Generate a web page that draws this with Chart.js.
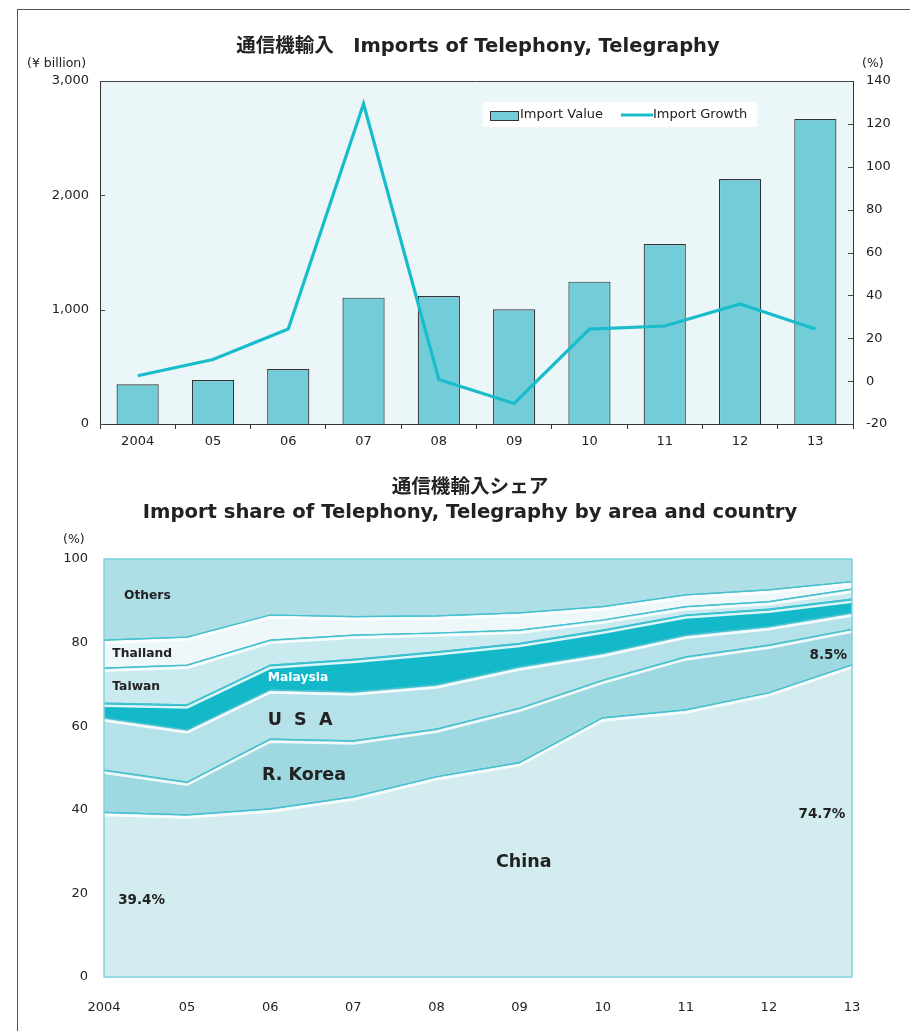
<!DOCTYPE html>
<html>
<head>
<meta charset="utf-8">
<title>Imports of Telephony, Telegraphy</title>
<script src="https://cdn.jsdelivr.net/npm/chart.js@4.4.1/dist/chart.umd.min.js"></script>
<style>
  html, body { margin: 0; padding: 0; background: #fff; }
  body { width: 910px; height: 1031px; position: relative; overflow: hidden; }
  #frame { position: absolute; left: 17px; top: 9px; width: 900px; height: 1030px;
           border-left: 1px solid #555; border-top: 1px solid #555; }
  #topBox { position: absolute; left: 0; top: 0; width: 910px; height: 460px; }
  #shareBox { position: absolute; left: 0; top: 460px; width: 910px; height: 571px; }
</style>
</head>
<body>
<div id="frame"></div>
<div id="topBox"><canvas id="importChart"></canvas></div>
<div id="shareBox"><canvas id="shareChart"></canvas></div>
<script>
// --- data ---
const years = ['2004', '05', '06', '07', '08', '09', '10', '11', '12', '13'];

// import value (¥ billion) and growth (%)
const importValue = [348, 385, 481, 1105, 1120, 1003, 1245, 1575, 2143, 2668];
const importGrowth = [2.5, 10.1, 24.3, 129.4, 0.8, -10.4, 24.3, 25.7, 36.0, 24.3];

// share by area / country (%), bottom to top
const chinaShare    = [39.4, 38.8, 40.2, 43.1, 47.9, 51.3, 62.0, 63.9, 68.0, 74.7];
const koreaShare    = [10.1, 7.8, 16.7, 13.4, 11.4, 13.0, 9.0, 12.7, 11.4, 8.5];
const usaShare      = [12.5, 12.5, 11.8, 11.7, 10.6, 9.9, 6.4, 5.2, 4.4, 3.9];
const malaysiaShare = [3.5, 6.0, 5.9, 7.8, 7.9, 5.6, 5.6, 4.8, 4.2, 3.3];
const taiwanShare   = [8.4, 9.5, 6.0, 5.8, 4.5, 3.2, 2.4, 2.0, 1.8, 2.4];
const thailandShare = [6.7, 6.7, 6.0, 4.4, 4.1, 4.1, 3.2, 2.8, 2.8, 1.8];
const othersShare   = [19.4, 18.7, 13.4, 13.8, 13.6, 12.9, 11.4, 8.6, 7.4, 5.4];

const topTitle = '通信機輸入　Imports of Telephony, Telegraphy';
const shareTitle1 = '通信機輸入シェア';
const shareTitle2 = 'Import share of Telephony, Telegraphy by area and country';

const tickFont = { family: "'DejaVu Sans', sans-serif", size: 13 };
const textColor = '#222';
const barColor = '#72cdd8';
const lineColor = '#19bccb';

// --- top chart: bars + growth line ---
const topDecor = {
    id: 'topDecor',
    beforeDraw(chart) {
        const { ctx, chartArea: a } = chart;
        ctx.save();
        ctx.fillStyle = '#eaf6f8';
        ctx.fillRect(a.left, a.top, a.right - a.left, a.bottom - a.top);
        ctx.restore();
    },
    afterDraw(chart) {
        const { ctx, chartArea: a } = chart;
        ctx.save();
        ctx.strokeStyle = '#444';
        ctx.lineWidth = 1;
        ctx.beginPath();
        ctx.moveTo(a.left, a.top + 0.5);
        ctx.lineTo(a.right, a.top + 0.5);
        ctx.stroke();

        // small inward tick marks on both value axes
        ['y', 'y1'].forEach(id => {
            const s = chart.scales[id];
            s.ticks.forEach(t => {
                const py = Math.round(s.getPixelForValue(t.value)) + 0.5;
                ctx.beginPath();
                if (id === 'y') { ctx.moveTo(a.left, py); ctx.lineTo(a.left + 5, py); }
                else { ctx.moveTo(a.right - 5, py); ctx.lineTo(a.right, py); }
                ctx.stroke();
            });
        });

        // title and units
        ctx.fillStyle = textColor;
        ctx.font = "bold 19.5px 'DejaVu Sans', 'Noto Sans CJK JP'";
        ctx.textAlign = 'center';
        ctx.textBaseline = 'middle';
        ctx.fillText(topTitle, 478, 47);
        ctx.font = "12.5px 'DejaVu Sans'";
        ctx.textAlign = 'left';
        ctx.fillText('(¥ billion)', 27, 64);
        ctx.fillText('(%)', 862, 64);

        // legend inside the plot
        const lx = a.left + 383, ly = a.top + 21;
        ctx.fillStyle = '#fff';
        ctx.fillRect(lx, ly, 274, 25);
        ctx.fillStyle = barColor;
        ctx.fillRect(lx + 7, ly + 9, 28, 9);
        ctx.strokeStyle = '#333';
        ctx.strokeRect(lx + 7.5, ly + 9.5, 28, 9);
        ctx.fillStyle = textColor;
        ctx.font = "13px 'DejaVu Sans'";
        ctx.fillText(chart.data.datasets[0].label, lx + 37, ly + 13);
        ctx.strokeStyle = lineColor;
        ctx.lineWidth = 3;
        ctx.beginPath();
        ctx.moveTo(lx + 138, ly + 13);
        ctx.lineTo(lx + 170, ly + 13);
        ctx.stroke();
        ctx.fillText(chart.data.datasets[1].label, lx + 170, ly + 13);
        ctx.restore();
    }
};

new Chart(document.getElementById('importChart'), {
    type: 'bar',
    data: {
        labels: years,
        datasets: [{
            type: 'bar',
            label: 'Import Value',
            data: importValue,
            backgroundColor: barColor,
            borderColor: '#333',
            borderWidth: 1.2,
            categoryPercentage: 1,
            barPercentage: 0.56,
            yAxisID: 'y',
            order: 1
        }, {
            type: 'line',
            label: 'Import Growth',
            data: importGrowth,
            borderColor: lineColor,
            borderWidth: 3.2,
            pointRadius: 0,
            tension: 0,
            yAxisID: 'y1',
            order: 0
        }]
    },
    options: {
        responsive: true,
        maintainAspectRatio: false,
        animation: false,
        layout: { padding: { top: 81, left: 0, right: 0, bottom: 0 } },
        plugins: { legend: { display: false }, tooltip: { enabled: false } },
        scales: {
            x: {
                offset: true,
                grid: { offset: true, drawOnChartArea: false, tickLength: 5, color: '#333' },
                border: { color: '#333' },
                ticks: { font: tickFont, color: textColor, padding: 5, maxRotation: 0 },
                afterFit: s => { s.height = 36; }
            },
            y: {
                position: 'left',
                min: 0, max: 3000,
                grid: { display: false, drawTicks: false },
                border: { color: '#333' },
                ticks: {
                    stepSize: 1000, font: tickFont, color: textColor, padding: 11,
                    callback: v => v.toLocaleString('en-US')
                },
                afterFit: s => { s.width = 100; }
            },
            y1: {
                position: 'right',
                min: -20, max: 140,
                grid: { display: false, drawTicks: false },
                border: { color: '#333' },
                ticks: { stepSize: 20, font: tickFont, color: textColor, padding: 13 },
                afterFit: s => { s.width = 57; }
            }
        }
    },
    plugins: [topDecor]
});

// --- bottom chart: stacked share areas ---
const areaNotes = [
    { text: 'Others',   x: 0.24, y: 91.2, size: 12.3, color: '#222', align: 'left' },
    { text: 'Thailand', x: 0.10, y: 77.3, size: 12.3, color: '#222', align: 'left' },
    { text: 'Taiwan',   x: 0.10, y: 69.5, size: 12.3, color: '#222', align: 'left' },
    { text: 'Malaysia', x: 1.97, y: 71.5, size: 12.3, color: '#fff', align: 'left' },
    { text: 'U  S  A',  x: 1.97, y: 61.3, size: 17.5, color: '#222', align: 'left' },
    { text: 'R. Korea', x: 1.90, y: 48.3, size: 17.5, color: '#222', align: 'left' },
    { text: 'China',    x: 5.05, y: 27.5, size: 17.5, color: '#222', align: 'center' },
    { text: '39.4%',    x: 0.17, y: 18.4, size: 13.5, color: '#222', align: 'left' },
    { text: '74.7%',    x: 8.92, y: 38.8, size: 13.5, color: '#222', align: 'right' },
    { text: '8.5%',     x: 8.94, y: 77.0, size: 13.5, color: '#222', align: 'right' }
];

const shareDecor = {
    id: 'shareDecor',
    afterDatasetsDraw(chart) {
        const { ctx, chartArea: a } = chart;
        const xs = chart.scales.x, ys = chart.scales.y;
        ctx.save();
        ctx.beginPath();
        ctx.rect(a.left, a.top, a.right - a.left, a.bottom - a.top);
        ctx.clip();
        // white highlight under each boundary (bevel look)
        for (let i = 0; i < chart.data.datasets.length - 1; i++) {
            const pts = chart.getDatasetMeta(i).data;
            ctx.strokeStyle = 'rgba(255,255,255,0.85)';
            ctx.lineWidth = 2.5;
            ctx.beginPath();
            pts.forEach((p, k) => {
                if (k === 0) ctx.moveTo(p.x, p.y + 2.6);
                else ctx.lineTo(p.x, p.y + 2.6);
            });
            ctx.stroke();
            ctx.strokeStyle = '#45c1cf';
            ctx.lineWidth = 1.2;
            ctx.beginPath();
            pts.forEach((p, k) => {
                if (k === 0) ctx.moveTo(p.x, p.y);
                else ctx.lineTo(p.x, p.y);
            });
            ctx.stroke();
        }
        ctx.restore();

        ctx.save();
        ctx.textBaseline = 'middle';
        areaNotes.forEach(n => {
            ctx.font = "bold " + n.size + "px 'DejaVu Sans'";
            ctx.fillStyle = n.color;
            ctx.textAlign = n.align;
            ctx.fillText(n.text, xs.getPixelForValue(n.x), ys.getPixelForValue(n.y));
        });
        ctx.restore();
    },
    afterDraw(chart) {
        const { ctx, chartArea: a } = chart;
        ctx.save();
        ctx.strokeStyle = '#7fd2dc';
        ctx.lineWidth = 1.5;
        ctx.strokeRect(a.left, a.top, a.right - a.left, a.bottom - a.top);
        ctx.fillStyle = textColor;
        ctx.textAlign = 'center';
        ctx.textBaseline = 'middle';
        ctx.font = "bold 19.6px 'DejaVu Sans', 'Noto Sans CJK JP'";
        ctx.fillText(shareTitle1, 470, 28);
        ctx.fillText(shareTitle2, 470, 53);
        ctx.font = "12.5px 'DejaVu Sans'";
        ctx.textAlign = 'left';
        ctx.fillText('(%)', 63, 80);
        ctx.restore();
    }
};

const areaSet = (label, data, color, fill) => ({
    label: label,
    data: data,
    backgroundColor: color,
    borderColor: '#45c1cf',
    borderWidth: 1.2,
    pointRadius: 0,
    tension: 0,
    fill: fill
});

new Chart(document.getElementById('shareChart'), {
    type: 'line',
    data: {
        labels: years,
        datasets: [
            areaSet('China', chinaShare, '#d3ecf0', 'origin'),
            areaSet('R. Korea', koreaShare, '#9ed8e0', '-1'),
            areaSet('USA', usaShare, '#b5e2e8', '-1'),
            areaSet('Malaysia', malaysiaShare, '#14b9c9', '-1'),
            areaSet('Taiwan', taiwanShare, '#c9eaef', '-1'),
            areaSet('Thailand', thailandShare, '#eef8fa', '-1'),
            areaSet('Others', othersShare, '#afdfe6', '-1')
        ]
    },
    options: {
        responsive: true,
        maintainAspectRatio: false,
        animation: false,
        layout: { padding: { top: 99, left: 0, right: 58, bottom: 0 } },
        plugins: { legend: { display: false }, tooltip: { enabled: false } },
        scales: {
            x: {
                grid: { display: false, drawTicks: false },
                border: { display: false },
                ticks: { font: tickFont, color: textColor, padding: 23, maxRotation: 0, autoSkip: false },
                afterFit: s => { s.height = 54; }
            },
            y: {
                stacked: true,
                min: 0, max: 100,
                grid: { display: false, drawTicks: false },
                border: { display: false },
                ticks: { stepSize: 20, font: tickFont, color: textColor, padding: 16 },
                afterFit: s => { s.width = 104; }
            }
        }
    },
    plugins: [shareDecor]
});
</script>
</body>
</html>
